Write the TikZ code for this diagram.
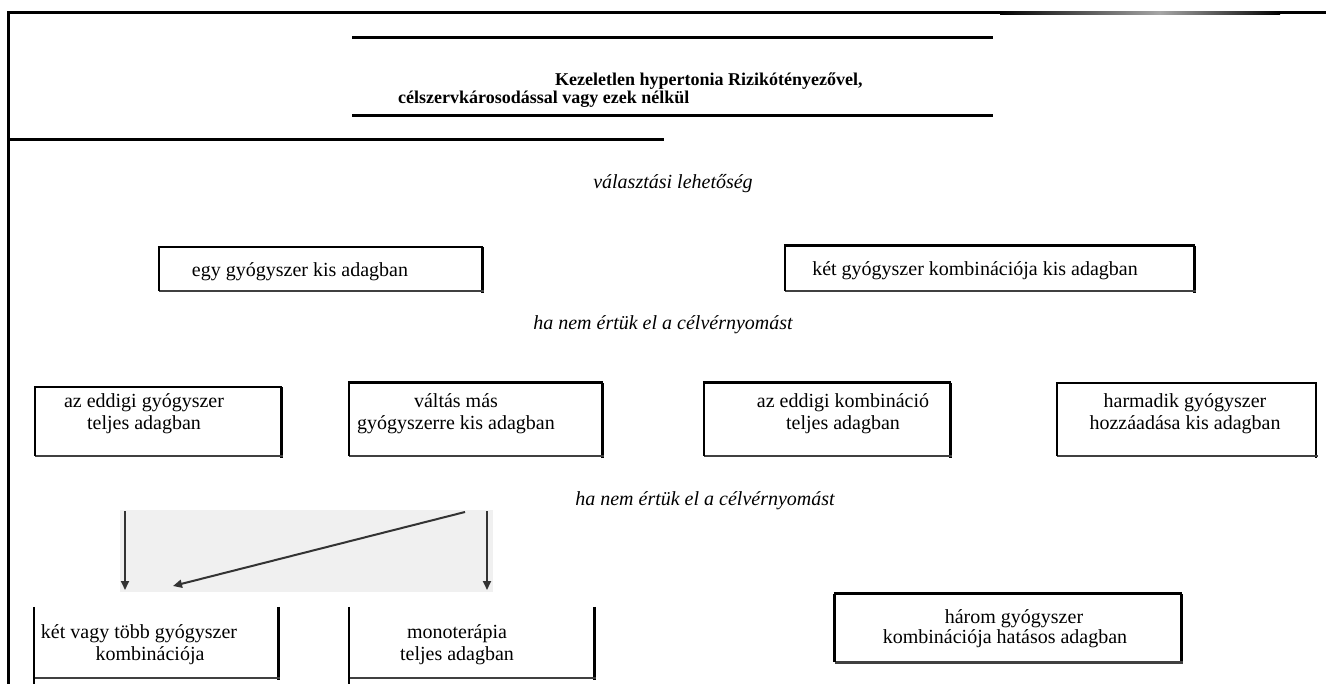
\documentclass[tikz,border=0pt]{standalone}
\usepackage{fontspec}
\setmainfont{Liberation Serif}
\usetikzlibrary{arrows.meta}
\newcommand\myedges[5]{%
  \draw[line width=#2] ([xshift=-1pt]#1.north west) -- ([xshift=1pt]#1.north east);
  \draw[line width=#3] (#1.north east) -- ([yshift=-2pt]#1.south east);
  \draw[line width=#4, black!75] (#1.south west) -- ([xshift=2pt]#1.south east);
  \draw[line width=#5] (#1.north west) -- (#1.south west);}
\newcommand\openedges[1]{%
  \draw[line width=3pt] (#1.north east) -- ([yshift=-2pt]#1.south east);
  \draw[line width=1.5pt, black!75] (#1.south west) -- ([xshift=2pt]#1.south east);
  \draw[line width=1.5pt] (#1.north west) -- ([yshift=-6pt]#1.south west);}
\begin{document}
\begin{tikzpicture}[x=1pt,y=-1pt,
  txt/.style={font=\fontsize{20}{22}\selectfont, inner sep=0pt, align=center, anchor=base},
  ital/.style={font=\fontsize{20}{22}\selectfont\itshape, inner sep=0pt, anchor=base},
  ttl/.style={font=\fontsize{18}{20}\selectfont\bfseries, inner sep=0pt, anchor=base west},
  boxn/.style={draw=none, inner sep=0pt, minimum width=#1},
  heavy/.style={line width=3pt},
  arr/.style={draw=black!80, line width=2pt, -{Triangle[length=9pt,width=8pt]}},
]
\useasboundingbox (0,0) rectangle (1326,684);
% frame
\draw[heavy] (8,684) -- (8,13) -- (1000,13);
\shade[left color=black, right color=black!35] (1000,11.5) rectangle (1160,14.5);
\shade[left color=black!35, right color=black] (1160,11.5) rectangle (1280,14.5);
\draw[heavy] (1280,13) -- (1326,13);
\draw[heavy] (8,140) -- (664,140);
% header
\draw[heavy] (352,38) -- (993,38);
\draw[heavy] (352,116) -- (993,116);
\node[ttl] (title1) at (555,86) {Kezeletlen hypertonia Rizikótényezővel,};
\node[ttl] (title2) at (398,104) {célszervkárosodással vagy ezek nélkül};
% labels
\node[ital] (lab0) at (673,189) {választási lehetőség};
\node[ital] (lab1) at (663,330) {ha nem értük el a célvérnyomást};
\node[ital] (lab2) at (705,505) {ha nem értük el a célvérnyomást};
% row 1
\node[boxn=323, minimum height=44] (b1) at (320.5,269) {};
\node[txt] (t1) at (300,277) {egy gyógyszer kis adagban};
\myedges{b1}{2.5pt}{3pt}{1.5pt}{1.8pt}
\node[boxn=409, minimum height=45] (b2) at (989.5,268.5) {};
\node[txt] (t2) at (975,276) {két gyógyszer kombinációja kis adagban};
\myedges{b2}{3pt}{3pt}{1.5pt}{1.8pt}
% row 2
\node[boxn=246, minimum height=69] (b3) at (158,421.5) {};
\node[txt] (t3) at (144,430) {az eddigi gyógyszer\\teljes adagban};
\myedges{b3}{2pt}{3pt}{1.5pt}{1.8pt}
\node[boxn=253, minimum height=73] (b4) at (475.5,419.5) {};
\node[txt] (t4) at (456,430) {váltás más\\gyógyszerre kis adagban};
\myedges{b4}{3pt}{3pt}{1.5pt}{1.8pt}
\node[boxn=246, minimum height=73] (b5) at (827,419.5) {};
\node[txt] (t5) at (843,430) {az eddigi kombináció\\teljes adagban};
\myedges{b5}{3pt}{3pt}{1.5pt}{1.8pt}
\node[boxn=259, minimum height=73] (b6) at (1186.5,419.5) {};
\node[txt] (t6) at (1185,430) {harmadik gyógyszer\\hozzáadása kis adagban};
\myedges{b6}{2pt}{2pt}{1.5pt}{1.8pt}
% arrows area
\fill[black!6] (120,510) rectangle (493,592);
\coordinate (a1s) at (125,511);
\coordinate (a1e) at (125,590);
\coordinate (a2s) at (487,511);
\coordinate (a2e) at (487,590);
\coordinate (a3s) at (465,512);
\coordinate (a3e) at (173,586);
\draw[arr] (a1s) -- (a1e);
\draw[arr] (a2s) -- (a2e);
\draw[arr] (a3s) -- (a3e);
% row 3
\node[boxn=244, minimum height=71] (b7) at (156,642.5) {};
\node[txt] (t7) at (139,660) {két vagy több gyógyszer\\\hspace*{22pt}kombinációja};
\openedges{b7}
\node[boxn=245, minimum height=71] (b8) at (471.5,642.5) {};
\node[txt] (t8) at (457,660) {monoterápia\\teljes adagban};
\openedges{b8}
\node[boxn=346, minimum height=68] (b9) at (1008,628) {};
\node[txt, font=\fontsize{20}{20}\selectfont] (t9) at (1005,643) {\hspace*{18pt}három gyógyszer\\kombinációja hatásos adagban};
\myedges{b9}{3pt}{3pt}{3pt}{3pt}
\end{tikzpicture}
\end{document}
